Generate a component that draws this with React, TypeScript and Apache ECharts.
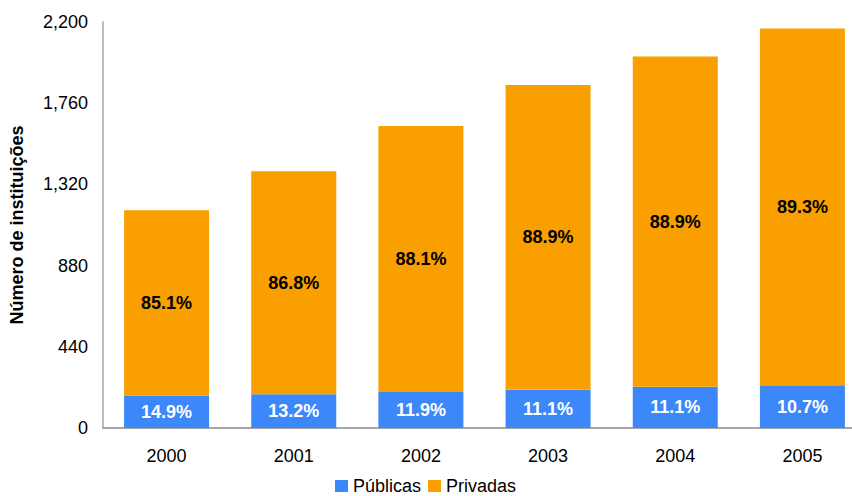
import React, { useEffect, useRef } from "react";
import * as echarts from "echarts";

const years = ["2000", "2001", "2002", "2003", "2004", "2005"];
const publicas = [176, 183, 195, 207, 224, 231];
const privadas = [1004, 1208, 1442, 1652, 1789, 1934];
const pubLabels = ["14.9%", "13.2%", "11.9%", "11.1%", "11.1%", "10.7%"];
const privLabels = ["85.1%", "86.8%", "88.1%", "88.9%", "88.9%", "89.3%"];

const FONT = "Liberation Sans, Arial, sans-serif";

export default function App() {
  const ref = useRef<HTMLDivElement>(null);
  useEffect(() => {
    if (!ref.current) return;
    const chart = echarts.init(ref.current, undefined, { renderer: "svg" });
    chart.setOption({
      animation: false,
      textStyle: { fontFamily: FONT },
      grid: { left: 103, top: 22, right: 0, bottom: 68, containLabel: false },
      legend: {
        top: 472,
        left: 330,
        itemWidth: 13,
        itemHeight: 12,
        itemGap: 7,
        icon: "rect",
        textStyle: { fontFamily: FONT, fontSize: 18, color: "#000" },
        data: ["Públicas", "Privadas"],
      },
      xAxis: {
        type: "category",
        data: years,
        axisLine: { lineStyle: { color: "#a6a6a6", width: 2 } },
        axisTick: { show: false },
        axisLabel: { fontFamily: FONT, fontSize: 18, color: "#000", margin: 19 },
      },
      yAxis: {
        type: "value",
        min: 0,
        max: 2200,
        interval: 440,
        name: "Número de instituições",
        nameLocation: "middle",
        nameGap: 77,
        nameTextStyle: { fontFamily: FONT, fontSize: 18, fontWeight: "bold", color: "#000" },
        axisLine: { show: true, lineStyle: { color: "#a6a6a6", width: 1.5 } },
        axisTick: { show: false },
        splitLine: { show: false },
        axisLabel: {
          fontFamily: FONT,
          fontSize: 18,
          color: "#000",
          margin: 15,
          formatter: (v: number) => v.toLocaleString("en-US"),
        },
      },
      series: [
        {
          name: "Públicas",
          type: "bar",
          stack: "total",
          barWidth: 85,
          itemStyle: { color: "#3c87f9" },
          data: publicas,
          label: {
            show: true,
            position: "inside",
            color: "#fff",
            fontFamily: FONT,
            fontSize: 18,
            fontWeight: "bold",
            formatter: (p: any) => pubLabels[p.dataIndex],
          },
        },
        {
          name: "Privadas",
          type: "bar",
          stack: "total",
          barWidth: 85,
          itemStyle: { color: "#f99f00" },
          data: privadas,
          label: {
            show: true,
            position: "inside",
            color: "#000",
            fontFamily: FONT,
            fontSize: 18,
            fontWeight: "bold",
            formatter: (p: any) => privLabels[p.dataIndex],
          },
        },
      ],
    });
    return () => chart.dispose();
  }, []);
  return (
    <div style={{ width: 852, height: 496, position: "absolute", left: 0, top: 0, overflow: "hidden" }}>
      <div ref={ref} style={{ width: 866, height: 496 }} />
    </div>
  );
}
